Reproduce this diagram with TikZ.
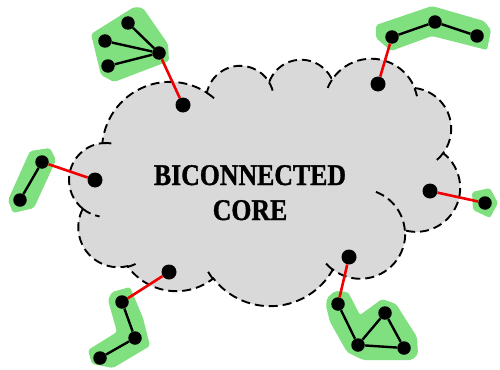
\documentclass[tikz,border=0pt]{standalone}
\usepackage{fontspec}
\setmainfont{Liberation Serif}
\definecolor{hullgreen}{RGB}{128,224,128}
\definecolor{cloudgray}{RGB}{217,217,217}
\definecolor{linkred}{RGB}{240,0,0}
\begin{document}
\begin{tikzpicture}[x=1pt,y=1pt,yscale=-1,
  dot/.style={circle,fill=black,inner sep=0pt,minimum size=13.5pt},
  cdot/.style={dot,minimum size=15pt},
  hull/.style={fill=hullgreen,rounded corners=2pt},
  blk/.style={line width=2.4pt,black},
  redlink/.style={line width=2.6pt,linkred},
  cloudline/.style={line width=1.9pt,dash pattern=on 9pt off 5pt},
  lbl/.style={font=\bfseries\addfontfeatures{FakeBold=1.2}\fontsize{30}{30}\selectfont,anchor=base,inner sep=0pt}]
\useasboundingbox (0,0) rectangle (500,369);

% green hulls
\fill[hull] (91,34) -- (134,7) -- (143,8) -- (168,44) -- (169,61) -- (114,82) -- (101,75) -- cycle;
\fill[hull] (376,25) -- (432,6) -- (484,21) -- (491,30) -- (487,50) -- (432,36) -- (391,51) -- (376,38) -- cycle;
\fill[hull] (30,151) -- (50,148) -- (56,160) -- (34,208) -- (13,213) -- (8,200) -- cycle;
\fill[hull] (472,192) -- (490,188) -- (498,203) -- (490,218) -- (473,210) -- cycle;
\fill[hull] (112,292) -- (130,287) -- (143,318) -- (150,346) -- (113,368) -- (92,364) -- (88,350) -- (117,332) -- (108,300) -- cycle;
\fill[hull] (327,298) -- (335,291) -- (348,292) -- (360,315) -- (382,299) -- (396,304) -- (417,337) -- (418,354) -- (412,360) -- (363,360) -- (347,352) -- (330,322) -- (326,306) -- cycle;

% cloud
\path[fill=cloudgray,draw=black,cloudline] (82.9,208.8)
  arc[start angle=128.7,end angle=264.3,radius=37]
  arc[start angle=185.7,end angle=302.8,radius=68]
  arc[start angle=192.1,end angle=328.7,radius=34]
  arc[start angle=199.9,end angle=335.5,radius=34]
  arc[start angle=213.7,end angle=337.9,radius=47]
  arc[start angle=276.3,end angle=396.4,radius=41]
  arc[start angle=307.9,end angle=464.6,radius=44]
  arc[start angle=355.7,end angle=487.4,radius=45]
  arc[start angle=29.4,end angle=142.1,radius=72]
  arc[start angle=51.9,end angle=144.4,radius=60]
  arc[start angle=76.6,end angle=208.7,radius=40]
  -- cycle;
% inner hooks
\draw[cloudline] (170,150) ++(302.8:68) arc[start angle=302.8,end angle=314,radius=68];
\draw[cloudline] (240,100) ++(328.7:34) arc[start angle=328.7,end angle=350,radius=34];
\draw[cloudline] (371,106) ++(213.7:47) arc[start angle=213.7,end angle=201,radius=47];
\draw[cloudline] (371,106) ++(337.9:47) arc[start angle=337.9,end angle=348,radius=47];
\draw[cloudline] (410,129) ++(36.4:41) arc[start angle=36.4,end angle=50,radius=41];
\draw[cloudline] (360,234) ++(355.7:45) arc[start angle=355.7,end angle=290,radius=45];
\draw[cloudline] (360,234) ++(127.4:45) arc[start angle=127.4,end angle=140,radius=45];
\draw[cloudline] (270,235) ++(142.1:72) arc[start angle=142.1,end angle=150,radius=72];
\draw[cloudline] (118,228) ++(76.6:40) arc[start angle=76.6,end angle=64,radius=40];
\draw[cloudline] (106,180) ++(128.7:37) arc[start angle=128.7,end angle=100,radius=37];
\draw[cloudline] (106,180) ++(264.3:37) arc[start angle=264.3,end angle=280,radius=37];

% label
\node[lbl] (t1) at (250,185) {\scalebox{0.86}[1]{BICONNECTED}};
\node[lbl] (t2) at (250,220) {\scalebox{0.86}[1]{CORE}};

% dots
\node[cdot] (c1) at (183,105) {};
\node[cdot] (c2) at (378,84) {};
\node[cdot] (c3) at (95,180) {};
\node[cdot] (c4) at (430,191) {};
\node[cdot] (c5) at (349,257) {};
\node[cdot] (c6) at (169,272) {};
\node[dot] (a0) at (159,53) {};
\node[dot] (a1) at (128,23) {};
\node[dot] (a2) at (105,41) {};
\node[dot] (a3) at (108,66) {};
\node[dot] (b1) at (392,37) {};
\node[dot] (b2) at (435,22) {};
\node[dot] (b3) at (477,36) {};
\node[dot] (d1) at (42,162) {};
\node[dot] (d2) at (20,200) {};
\node[dot] (e1) at (485,203) {};
\node[dot] (f1) at (122,302) {};
\node[dot] (f2) at (135,338) {};
\node[dot] (f3) at (100,358) {};
\node[dot] (g1) at (338,304) {};
\node[dot] (g2) at (358,345) {};
\node[dot] (g3) at (385,313) {};
\node[dot] (g4) at (404,348) {};

% connectors
\draw[redlink] (c1) -- (a0);
\draw[redlink] (c2) -- (b1);
\draw[redlink] (c3) -- (d1);
\draw[redlink] (c4) -- (e1);
\draw[redlink] (c5) -- (g1);
\draw[redlink] (c6) -- (f1);
\draw[blk] (a0) -- (a1);
\draw[blk] (a0) -- (a2);
\draw[blk] (a0) -- (a3);
\draw[blk] (b1) -- (b2);
\draw[blk] (b2) -- (b3);
\draw[blk] (d1) -- (d2);
\draw[blk] (f1) -- (f2);
\draw[blk] (f2) -- (f3);
\draw[blk] (g1) -- (g2);
\draw[blk] (g2) -- (g3);
\draw[blk] (g3) -- (g4);
\draw[blk] (g2) -- (g4);
\end{tikzpicture}
\end{document}
